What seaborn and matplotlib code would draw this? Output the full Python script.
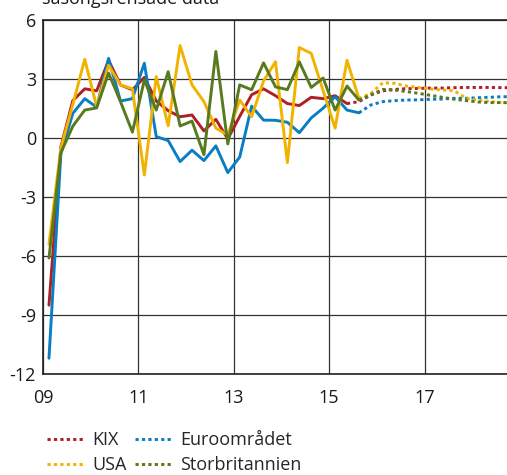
import matplotlib
matplotlib.use("Agg")
import matplotlib.pyplot as plt
from matplotlib.lines import Line2D
import numpy as np
import pandas as pd
import seaborn as sns

# Quarterly GDP growth, annual percentage change, seasonally adjusted
first_quarter = "2009Q1"

# Outcome series
kix_outcome = [-8.5, -0.45, 1.9, 2.5, 2.4, 3.95, 2.7, 2.45, 3.08, 1.88, 1.39, 1.08,
               1.17, 0.36, 0.95, -0.05, 1.1, 2.2, 2.5, 2.15, 1.75, 1.65, 2.07, 2.0,
               2.15, 1.75]
euro_outcome = [-11.2, -0.8, 1.25, 2.0, 1.57, 4.05, 1.88, 2.0, 3.8, 0.07, -0.13, -1.2,
                -0.62, -1.15, -0.4, -1.76, -0.97, 1.62, 0.91, 0.9, 0.8, 0.27, 1.02, 1.52,
                2.1, 1.42, 1.28]
usa_outcome = [-5.4, -0.5, 1.7, 4.0, 1.6, 3.7, 2.7, 2.5, -1.88, 3.12, 0.62, 4.7,
               2.7, 1.85, 0.5, 0.15, 1.93, 1.08, 2.9, 3.88, -1.25, 4.6, 4.3, 2.4,
               0.5, 3.95, 2.0]
uk_outcome = [-6.1, -0.75, 0.6, 1.42, 1.53, 3.3, 1.85, 0.3, 2.95, 1.42, 3.37, 0.61,
              0.86, -0.85, 4.4, -0.3, 2.7, 2.45, 3.82, 2.6, 2.46, 3.87, 2.57, 3.05,
              1.42, 2.64, 1.93]

# Forecast series (start at the last outcome quarter)
kix_forecast = [1.75, 1.85, 2.19, 2.4, 2.47, 2.51, 2.52, 2.54, 2.54, 2.56, 2.57, 2.57,
                2.57, 2.56, 2.56]
euro_forecast = [1.28, 1.68, 1.85, 1.9, 1.93, 1.94, 1.97, 1.98, 2.02, 2.02, 2.05, 2.07,
                 2.1, 2.1]
usa_forecast = [2.0, 2.27, 2.81, 2.78, 2.64, 2.57, 2.49, 2.44, 2.4, 2.02, 1.93, 1.85,
                1.8, 1.78]
uk_forecast = [1.93, 2.19, 2.47, 2.44, 2.36, 2.27, 2.17, 2.07, 1.97, 1.9, 1.83, 1.8,
               1.8, 1.8]

series_names = ["KIX", "Euroområdet", "USA", "Storbritannien"]
series_colors = ["#B01F24", "#0A7DC4", "#F2B300", "#587A1E"]

y_ticks = [-12, -9, -6, -3, 0, 3, 6]
x_ticks = [9, 11, 13, 15, 17]
x_tick_labels = ["09", "11", "13", "15", "17"]
subtitle = "säsongsrensade data"


def quarter_positions(start_offset, n):
    # Position quarters at their midpoints on a two-digit-year axis
    start = pd.Period(first_quarter, freq="Q")
    periods = [start + start_offset + i for i in range(n)]
    return np.array([(p.year - 2000) + (p.quarter - 1) / 4 + 0.125 for p in periods])


outcomes = [kix_outcome, euro_outcome, usa_outcome, uk_outcome]
forecasts = [kix_forecast, euro_forecast, usa_forecast, uk_forecast]

rows = []
for name, out, fc in zip(series_names, outcomes, forecasts):
    x_out = quarter_positions(0, len(out))
    x_fc = quarter_positions(len(out) - 1, len(fc))
    rows += [dict(t=t, value=v, serie=name, del_="utfall") for t, v in zip(x_out, out)]
    rows += [dict(t=t, value=v, serie=name, del_="prognos") for t, v in zip(x_fc, fc)]
df = pd.DataFrame(rows)

sns.set_theme(style="white")
plt.rcParams["font.family"] = ["Open Sans", "DejaVu Sans"]
FS = 13

fig = plt.figure(figsize=(5.07, 4.75), dpi=100)
ax = fig.add_axes([43 / 507, 1 - 374 / 475, 1 - 43 / 507, (374 - 20) / 475])

palette = dict(zip(series_names, series_colors))
for name in series_names:
    sub = df[df.serie == name]
    sns.lineplot(data=sub[sub.del_ == "utfall"], x="t", y="value", ax=ax,
                 color=palette[name], lw=2.1, legend=False, zorder=3)
    sns.lineplot(data=sub[sub.del_ == "prognos"], x="t", y="value", ax=ax,
                 color=palette[name], lw=2.1, legend=False, zorder=3,
                 linestyle=(0, (1.1, 1.1)))

ax.set_xlim(9, 18.73)
ax.set_ylim(-12, 6)
ax.set_yticks(y_ticks)
ax.set_yticklabels([str(v) for v in y_ticks], fontsize=FS)
ax.set_xticks(x_ticks)
ax.set_xticklabels(x_tick_labels, fontsize=FS)
ax.set_xlabel("")
ax.set_ylabel("")
ax.tick_params(axis="y", length=0, pad=5, colors="#1a1a1a")
ax.tick_params(axis="x", length=0, pad=11, colors="#1a1a1a")
ax.grid(True, color="#333333", lw=0.9)
ax.set_axisbelow(True)
for side in ["left", "top", "bottom"]:
    ax.spines[side].set_color("#222222")
    ax.spines[side].set_linewidth(1.2)
ax.spines["right"].set_visible(False)

fig.text(42 / 507, 1 - 4 / 475, subtitle, fontsize=FS, color="#1a1a1a",
         ha="left", va="baseline")

handles = [Line2D([], [], color=c, lw=2.1, linestyle=(0, (1.1, 1.1)))
           for c in series_colors]
order = [0, 2, 1, 3]
fig.legend([handles[i] for i in order], [series_names[i] for i in order],
           loc="upper left", bbox_to_anchor=(47 / 507, 1 - 431 / 475), ncol=2,
           frameon=False, fontsize=FS, handlelength=2.0, handletextpad=0.5,
           columnspacing=0.45, labelspacing=0.4, borderpad=0, borderaxespad=0)

fig.savefig("out.png", dpi=100)
